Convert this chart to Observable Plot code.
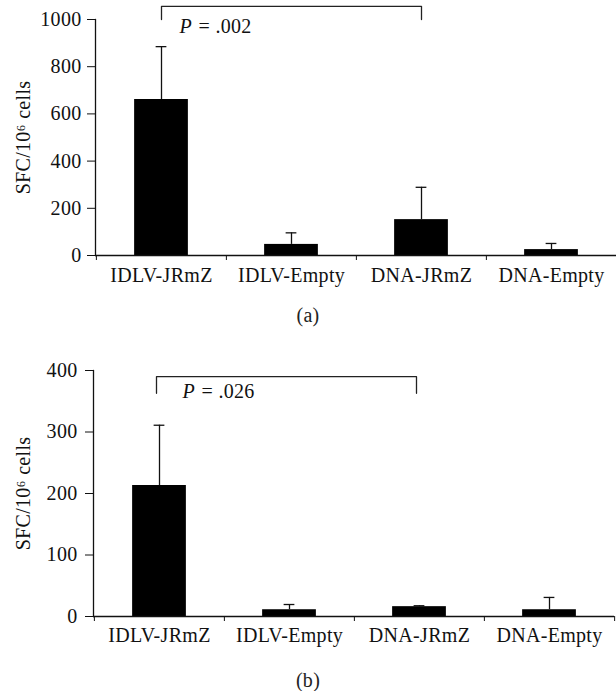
<!DOCTYPE html>
<html>
<head>
<meta charset="utf-8">
<script src="https://cdn.jsdelivr.net/npm/d3@7"></script>
<script src="https://cdn.jsdelivr.net/npm/@observablehq/plot@0.6"></script>
<style>
  html, body { margin: 0; padding: 0; background: #fff; }
  #wrap { width: 616px; font-family: "Liberation Serif", "Times New Roman", serif; color: #222; }
  .cap { width: 616px; text-align: center; font-size: 20px; letter-spacing: 0.3px; }
  svg text { letter-spacing: 0.3px; }
</style>
</head>
<body>
<div id="wrap"></div>
<script>
// ---- data ----
const categories = ["IDLV-JRmZ", "IDLV-Empty", "DNA-JRmZ", "DNA-Empty"];
// panel (a)
const meanA = [661, 47, 152, 25];
const upperA = [885, 96, 289, 51];
const ticksA = [0, 200, 400, 600, 800, 1000];
const pTextA = ".002";
// panel (b)
const meanB = [213, 11, 16, 11];
const upperB = [311, 19.5, 17.5, 31];
const ticksB = [0, 100, 200, 300, 400];
const pTextB = ".026";
const yLabel = "SFC/10\u2076 cells";

const FS = 20;

function panel(cfg) {
  const data = categories.map((c, i) => ({cat: c, mean: cfg.mean[i], upper: cfg.upper[i]}));
  const bw = (cfg.width - cfg.marginLeft - cfg.marginRight) / categories.length;
  const barInset = (bw - 54) / 2;
  const capInset = (bw - 11) / 2;
  const bracket = [
    {cat: categories[0], y: cfg.legLow},
    {cat: categories[0], y: cfg.bracketTop},
    {cat: categories[2], y: cfg.bracketTop},
    {cat: categories[2], y: cfg.legLow}
  ];
  const ink = "#111";
  return Plot.plot({
    width: cfg.width,
    height: cfg.height,
    marginLeft: cfg.marginLeft,
    marginRight: cfg.marginRight,
    marginTop: cfg.marginTop,
    marginBottom: cfg.marginBottom,
    style: {fontFamily: "'Liberation Serif', 'Times New Roman', serif", fontSize: FS + "px", color: ink, background: "#fff"},
    x: {domain: categories, padding: 0, label: null},
    y: {domain: cfg.domain, label: null},
    marks: [
      // bars
      Plot.barY(data, {x: "cat", y: "mean", fill: "#000", insetLeft: barInset, insetRight: barInset}),
      // error bars
      Plot.ruleX(data, {x: "cat", y1: "mean", y2: "upper", stroke: ink, strokeWidth: 1.3}),
      Plot.tickY(data, {x: "cat", y: "upper", stroke: ink, strokeWidth: 1.3, insetLeft: capInset, insetRight: capInset}),
      // axes lines
      Plot.ruleY([0], {stroke: ink, strokeWidth: 1.3}),
      Plot.frame({anchor: "left", stroke: ink, strokeWidth: 1.3}),
      // y axis
      Plot.axisY({ticks: cfg.ticks, tickSize: 8, tickPadding: cfg.yPad, tickFormat: d => String(d), fontSize: FS, label: null, stroke: ink}),
      // x boundary ticks
      Plot.axisX({ticks: categories, tickSize: 5, tickFormat: () => "", dx: -bw / 2, label: null, stroke: ink}),
      Plot.axisX({ticks: [categories[categories.length - 1]], tickSize: 5, tickFormat: () => "", dx: bw / 2, label: null, stroke: ink}),
      // x labels
      Plot.axisX({tickSize: 0, tickPadding: cfg.xPad, fontSize: FS, label: null}),
      // y label
      Plot.text([yLabel], {text: d => d, frameAnchor: "left", textAnchor: "middle", lineAnchor: "middle", rotate: -90, dx: -cfg.yLabelOff, fontSize: FS, fill: ink}),
      // significance bracket
      Plot.line(bracket, {x: "cat", y: "y", stroke: "#222", strokeWidth: 1.3, dx: cfg.bracketDx}),
      Plot.text([cfg.pText], {x: () => categories[0], y: () => cfg.pY, text: () => "P", fontStyle: "italic", textAnchor: "start", dx: cfg.pDx, fontSize: FS, fill: ink}),
      Plot.text([cfg.pText], {x: () => categories[0], y: () => cfg.pY, text: d => "= " + d, textAnchor: "start", dx: cfg.pDx + 19, fontSize: FS, fill: ink})
    ]
  });
}

const wrap = document.getElementById("wrap");
wrap.append(panel({
  width: 616, height: 300, marginLeft: 95, marginRight: 0, marginTop: 19, marginBottom: 45,
  domain: [0, 1000], mean: meanA, upper: upperA, ticks: ticksA, yPad: 6, xPad: 12,
  yLabelOff: 72, legLow: 1000, bracketTop: 1056, bracketDx: 0,
  pText: pTextA, pY: 970, pDx: 18
}));
const capA = document.createElement("div");
capA.className = "cap"; capA.style.height = "40px"; capA.style.lineHeight = "30px";
capA.textContent = "(a)";
wrap.append(capA);
wrap.append(panel({
  width: 616, height: 320, marginLeft: 93, marginRight: 2, marginTop: 30, marginBottom: 44,
  domain: [0, 400], mean: meanB, upper: upperB, ticks: ticksB, yPad: 8, xPad: 11,
  yLabelOff: 70, legLow: 363, bracketTop: 390, bracketDx: -3,
  pText: pTextB, pY: 365, pDx: 23
}));
const capB = document.createElement("div");
capB.className = "cap"; capB.style.height = "31px"; capB.style.lineHeight = "40px";
capB.textContent = "(b)";
wrap.append(capB);
</script>
</body>
</html>
